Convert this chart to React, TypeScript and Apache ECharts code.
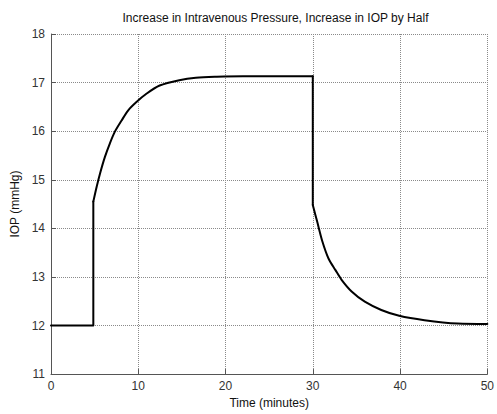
import React, { useEffect, useRef } from "react";
import * as echarts from "echarts";

const titleText = "Increase in Intravenous Pressure, Increase in IOP by Half";
const xAxisName = "Time (minutes)";
const yAxisName = "IOP (mmHg)";

// baseline and step up (time in minutes, IOP in mmHg)
const baseTimes: number[] = [0, 4.85, 4.85];
const baseIop: number[] = [12, 12, 14.55];

// rise after intravenous pressure increase
const riseTimes: number[] = [
  4.85, 5.24, 5.62, 6.18, 6.75, 7.32, 8.09, 8.85, 9.79, 10.93, 12.45,
  14.7, 16.6, 19, 22, 26, 30,
];
const riseIop: number[] = [
  14.55, 14.86, 15.13, 15.47, 15.75, 15.99, 16.22, 16.43, 16.6, 16.77, 16.94,
  17.05, 17.1, 17.12, 17.13, 17.13, 17.13,
];

// step down at t = 30
const dropTimes: number[] = [30, 30];
const dropIop: number[] = [17.13, 14.48];

// recovery decay
const decayTimes: number[] = [
  30, 30.5, 31.1, 31.8, 32.6, 33.3, 34.45, 35.96, 37.85, 39.9, 42.8, 46.6, 50,
];
const decayIop: number[] = [
  14.48, 14.14, 13.73, 13.38, 13.14, 12.94, 12.7, 12.49, 12.32, 12.2, 12.11, 12.04, 12.03,
];

const xMin = 0, xMax = 50, xStep = 10;
const yMin = 11, yMax = 18, yStep = 1;

const FONT = "'Liberation Sans', Arial, sans-serif";

const pairs = (xs: number[], ys: number[]) => xs.map((x, i) => [x, ys[i]]);

export default function App() {
  const ref = useRef<HTMLDivElement>(null);
  useEffect(() => {
    document.body.style.margin = "0";
    if (!ref.current) return;
    const chart = echarts.init(ref.current, undefined, { renderer: "svg" });
    const axisColor = "#555";
    const labelColor = "#333";
    const line = (data: number[][], smooth: boolean) => ({
      type: "line",
      data,
      showSymbol: false,
      symbol: "none",
      smooth: smooth ? 0.3 : false,
      lineStyle: { color: "#000", width: 2, cap: "round", join: "round" },
    });
    chart.setOption({
      animation: false,
      backgroundColor: "#fff",
      title: {
        text: titleText,
        left: 270.5,
        top: 7,
        textAlign: "center",
        textStyle: { fontFamily: FONT, fontSize: 12, fontWeight: "normal", color: "#111" },
      },
      grid: { left: 51, right: 7, top: 34, bottom: 38, containLabel: false },
      xAxis: {
        type: "value",
        min: xMin,
        max: xMax,
        interval: xStep,
        name: xAxisName,
        nameLocation: "middle",
        nameGap: 20,
        nameTextStyle: { fontFamily: FONT, fontSize: 12, color: "#111", verticalAlign: "top" },
        axisLine: { show: true, onZero: false, lineStyle: { color: axisColor, width: 1 } },
        axisTick: { show: true, inside: true, length: 5, lineStyle: { color: axisColor } },
        axisLabel: { fontFamily: FONT, fontSize: 12, color: labelColor, margin: 6 },
        splitLine: { show: true, lineStyle: { type: "dotted", color: "#8a8a8a", width: 1 } },
      },
      yAxis: {
        type: "value",
        min: yMin,
        max: yMax,
        interval: yStep,
        name: yAxisName,
        nameLocation: "middle",
        nameGap: 22,
        nameTextStyle: { fontFamily: FONT, fontSize: 12, color: "#111" },
        axisLine: { show: true, onZero: false, lineStyle: { color: axisColor, width: 1 } },
        axisTick: { show: true, inside: true, length: 5, lineStyle: { color: axisColor } },
        axisLabel: { fontFamily: FONT, fontSize: 12, color: labelColor, margin: 6 },
        splitLine: { show: true, lineStyle: { type: "dotted", color: "#8a8a8a", width: 1 } },
      },
      series: [
        line(pairs(baseTimes, baseIop), false),
        line(pairs(riseTimes, riseIop), true),
        line(pairs(dropTimes, dropIop), false),
        line(pairs(decayTimes, decayIop), true),
      ],
    });
    return () => chart.dispose();
  }, []);
  return <div ref={ref} style={{ width: 497, height: 414 }} />;
}
